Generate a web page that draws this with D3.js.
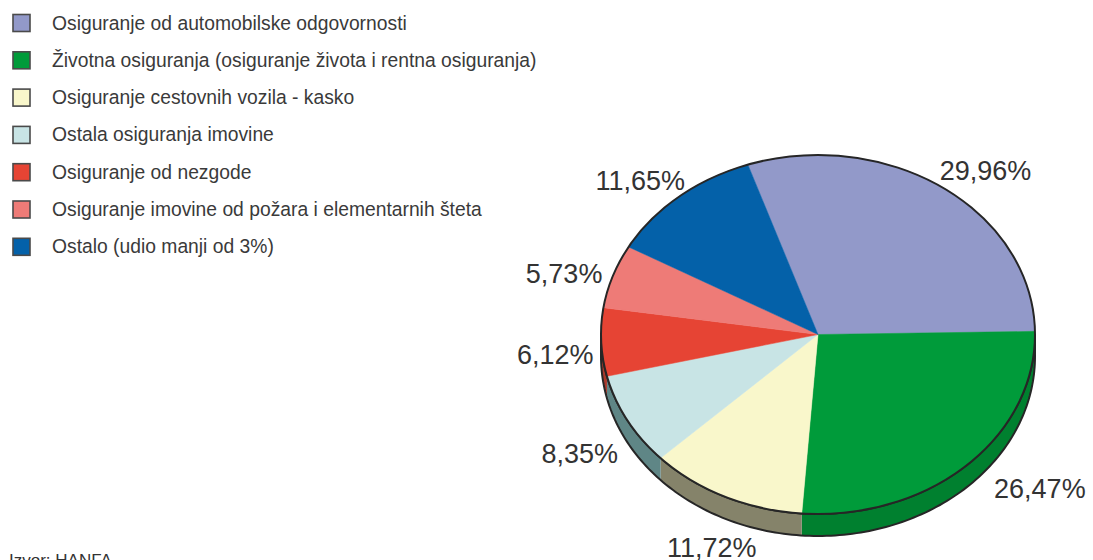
<!DOCTYPE html>
<html><head><meta charset="utf-8">
<script src="https://cdn.jsdelivr.net/npm/d3@7"></script>
<style>body{margin:0;background:#fff}svg{display:block}</style>
</head><body>
<svg id="c" width="1093" height="560"></svg>
<script>
const categories = [
  "Osiguranje od automobilske odgovornosti",
  "Životna osiguranja (osiguranje života i rentna osiguranja)",
  "Osiguranje cestovnih vozila - kasko",
  "Ostala osiguranja imovine",
  "Osiguranje od nezgode",
  "Osiguranje imovine od požara i elementarnih šteta",
  "Ostalo (udio manji od 3%)"
];
const values = [29.96, 26.47, 11.72, 8.35, 6.12, 5.73, 11.65];
const valueLabels = ["29,96%", "26,47%", "11,72%", "8,35%", "6,12%", "5,73%", "11,65%"];
const source = "Izvor: HANFA";

const topColors  = ["#9299c9", "#009b3a", "#f9f7cb", "#c8e4e5", "#e64434", "#ee7b77", "#0461a9"];
const sideColors = ["#6a6f94", "#00802f", "#85836a", "#5f8686", "#a8392c", "#b45a56", "#03467a"];
const labelNudge = [[17,13],[42,-20],[6,-3],[-8,5],[-1,10],[-6,9],[-10,12]];

const svg = d3.select("#c");
const cx = 818, cy = 334.5, rx = 217, ry = 179.5, depth = 22, k = ry / rx;
const start = (89 - values[0] * 3.6) * Math.PI / 180;
const pie = d3.pie().sort(null).startAngle(start).endAngle(start + 2 * Math.PI);
const arcs = pie(values);

// legend
const leg = svg.append("g");
categories.forEach((c, i) => {
  const y = 23 + i * 37.3;
  leg.append("rect").attr("x", 13).attr("y", y - 8.5).attr("width", 17).attr("height", 17)
    .attr("fill", topColors[i]).attr("stroke", "#4a4a4a").attr("stroke-width", 1.6);
  leg.append("text").attr("x", 52).attr("y", y + 6.5).text(c)
    .attr("font-family", "Liberation Sans, Arial, sans-serif").attr("font-size", 19.3)
    .attr("fill", "#3a3a3a");
});

// side walls
const P = a => [rx * Math.sin(a), -ry * Math.cos(a)];
function sidePath(a0, a1) {
  const n = Math.max(2, Math.ceil((a1 - a0) / 0.02));
  const pts = [];
  for (let j = 0; j <= n; j++) pts.push(P(a0 + (a1 - a0) * j / n));
  const bot = pts.slice().reverse().map(p => [p[0], p[1] + depth]);
  return "M" + pts.concat(bot).map(p => p.join(",")).join("L") + "Z";
}
const g = svg.append("g").attr("transform", `translate(${cx},${cy})`);
arcs.forEach((d, i) => {
  const a0 = Math.max(d.startAngle, Math.PI / 2), a1 = Math.min(d.endAngle, 3 * Math.PI / 2);
  if (a1 > a0) g.append("path").attr("d", sidePath(a0, a1)).attr("fill", sideColors[i]);
});
g.append("path").attr("d", sidePath(Math.PI / 2, 3 * Math.PI / 2))
  .attr("fill", "none").attr("stroke", "#262626").attr("stroke-width", 2);

// top face
const topG = g.append("g").attr("transform", `scale(1,${k})`);
const arc = d3.arc().innerRadius(0).outerRadius(rx);
topG.selectAll("path.s").data(arcs).join("path").attr("class", "s")
  .attr("d", arc).attr("fill", (d, i) => topColors[i])
  .attr("stroke", (d, i) => topColors[i]).attr("stroke-width", 0.5)
  .attr("vector-effect", "non-scaling-stroke");
g.append("ellipse").attr("rx", rx).attr("ry", ry).attr("fill", "none")
  .attr("stroke", "#262626").attr("stroke-width", 2);

// labels
const R = 262;
arcs.forEach((d, i) => {
  const m = (d.startAngle + d.endAngle) / 2;
  const s = Math.sin(m), c = Math.cos(m);
  const x = cx + R * s + labelNudge[i][0];
  const y = cy - R * c * k + (c < 0 ? -c * depth : 0) + labelNudge[i][1];
  svg.append("text").attr("x", x).attr("y", y).attr("dy", "0.36em")
    .attr("text-anchor", "middle").text(valueLabels[i])
    .attr("font-family", "Liberation Sans, Arial, sans-serif").attr("font-size", 27)
    .attr("fill", "#333");
});

svg.append("text").attr("x", 9).attr("y", 566).text(source)
  .attr("font-family", "Liberation Sans, Arial, sans-serif").attr("font-size", 17).attr("fill", "#333");
</script>
</body></html>
